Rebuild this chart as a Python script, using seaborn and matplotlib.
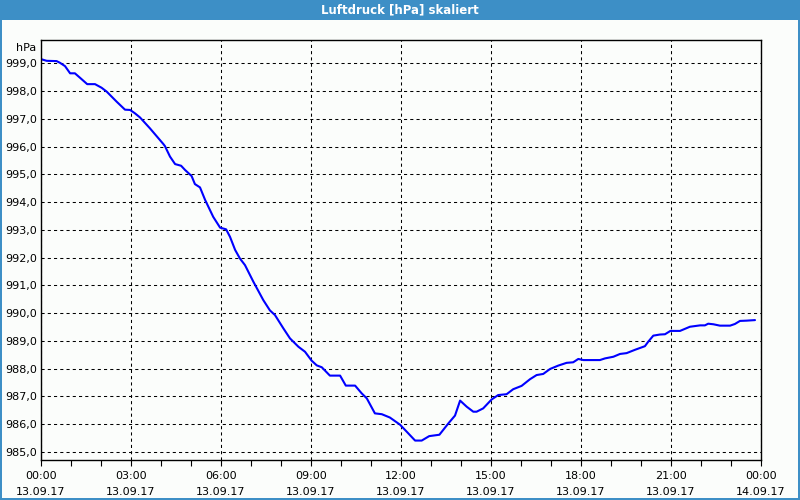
import matplotlib
matplotlib.use("Agg")
import matplotlib.pyplot as plt
import seaborn as sns
import pandas as pd
from matplotlib.patches import Rectangle
from matplotlib.ticker import FixedLocator, MultipleLocator

# ---- data ----
hours = [0.00, 0.19, 0.52, 0.63, 0.80, 0.97, 1.13, 1.30, 1.54, 1.80, 2.02, 2.19, 2.52, 2.80, 2.97,
         3.13, 3.30, 3.63, 4.08, 4.13, 4.30, 4.47, 4.67, 4.80, 5.02, 5.13, 5.30, 5.47, 5.74, 5.97,
         6.17, 6.30, 6.47, 6.63, 6.80, 7.08, 7.41, 7.63, 7.80, 8.08, 8.30, 8.58, 8.80, 9.02, 9.19,
         9.36, 9.63, 9.97, 10.16, 10.47, 10.69, 10.86, 11.13, 11.36, 11.63, 11.97, 12.19, 12.47,
         12.69, 12.94, 13.28, 13.58, 13.80, 13.97, 14.19, 14.41, 14.52, 14.74, 15.02, 15.24, 15.52,
         15.74, 16.02, 16.30, 16.52, 16.74, 16.97, 17.24, 17.52, 17.74, 17.91, 18.08, 18.63, 18.80,
         19.08, 19.30, 19.52, 19.80, 20.13, 20.24, 20.41, 20.63, 20.80, 20.98, 21.30, 21.63, 21.97,
         22.13, 22.24, 22.41, 22.63, 22.97, 23.13, 23.30, 23.52, 23.80]
pressure = [999.15, 999.09, 999.08, 999.02, 998.90, 998.64, 998.64, 998.48, 998.25, 998.25, 998.12,
            997.98, 997.62, 997.33, 997.32, 997.20, 997.05, 996.66, 996.09, 996.02, 995.64, 995.37,
            995.31, 995.16, 994.94, 994.65, 994.53, 994.08, 993.47, 993.08, 993.02, 992.75, 992.28,
            991.97, 991.73, 991.13, 990.47, 990.10, 989.93, 989.45, 989.09, 988.79, 988.61, 988.29,
            988.12, 988.05, 987.75, 987.75, 987.39, 987.39, 987.11, 986.93, 986.39, 986.36, 986.24,
            985.98, 985.73, 985.41, 985.41, 985.57, 985.62, 986.03, 986.31, 986.85, 986.63, 986.45,
            986.45, 986.57, 986.89, 987.05, 987.08, 987.26, 987.38, 987.62, 987.77, 987.81, 987.99,
            988.11, 988.21, 988.23, 988.35, 988.31, 988.31, 988.37, 988.43, 988.53, 988.56, 988.68,
            988.81, 988.97, 989.19, 989.23, 989.24, 989.36, 989.36, 989.51, 989.56, 989.56, 989.62,
            989.60, 989.55, 989.55, 989.61, 989.72, 989.73, 989.75]

x_ticks = [0, 3, 6, 9, 12, 15, 18, 21, 24]
x_labels = ["00:00\n13.09.17", "03:00\n13.09.17", "06:00\n13.09.17", "09:00\n13.09.17",
            "12:00\n13.09.17", "15:00\n13.09.17", "18:00\n13.09.17", "21:00\n13.09.17",
            "00:00\n14.09.17"]
y_ticks = [985, 986, 987, 988, 989, 990, 991, 992, 993, 994, 995, 996, 997, 998, 999]
y_labels = [f"{v},0" for v in y_ticks]
title = "Luftdruck [hPa] skaliert"
unit = "hPa"

df = pd.DataFrame({"h": hours, "p": pressure})

# ---- style ----
sns.set_style("white")
plt.rcParams["font.family"] = ["DejaVu Sans"]
plt.rcParams["text.color"] = "black"
plt.rcParams["xtick.color"] = "black"
plt.rcParams["ytick.color"] = "black"
plt.rcParams["axes.labelcolor"] = "black"

bg = "#fbfdfb"
frame = "#3d8fc6"

fig = plt.figure(figsize=(8, 5), dpi=100, facecolor=bg)
ax = fig.add_axes([41 / 800, 40 / 500, 720 / 800, 420 / 500])
ax.set_facecolor(bg)

sns.lineplot(data=df, x="h", y="p", ax=ax, color="#0000ff", linewidth=1.5)

ax.set_xlim(0, 24)
ax.set_ylim(984.71, 999.84)

ax.set_xticks(x_ticks)
ax.set_xticklabels(x_labels)
ax.xaxis.set_minor_locator(MultipleLocator(1))
ax.set_yticks(y_ticks)
ax.set_yticklabels(y_labels)

ax.tick_params(axis="x", which="both", direction="out", length=4, width=0.8,
               color="black", labelcolor="black", labelsize=8, pad=4, bottom=True)
ax.tick_params(axis="y", which="both", length=0, labelsize=8, labelcolor="black",
               pad=3, left=False)
for lbl in ax.get_xticklabels():
    lbl.set_linespacing(1.7)

ax.grid(True, which="major", color="black", linewidth=0.75, linestyle=(0, (3.0, 3.0)))
ax.set_axisbelow(True)

for sp in ax.spines.values():
    sp.set_visible(True)
    sp.set_color("black")
    sp.set_linewidth(1.0)

ax.set_xlabel("")
ax.set_ylabel("")

ax.text(-0.006, 1.0 - 3 / 420, unit, transform=ax.transAxes, ha="right", va="top",
        fontsize=8, color="black")

# window frame: title bar + borders
fig.patches.append(Rectangle((0, 1 - 20 / 500), 1, 20 / 500, transform=fig.transFigure,
                             facecolor=frame, edgecolor="none", zorder=0))
fig.patches.append(Rectangle((0, 0), 2 / 800, 1, transform=fig.transFigure,
                             facecolor=frame, edgecolor="none", zorder=0))
fig.patches.append(Rectangle((1 - 2 / 800, 0), 2 / 800, 1, transform=fig.transFigure,
                             facecolor=frame, edgecolor="none", zorder=0))
fig.patches.append(Rectangle((0, 0), 1, 2 / 500, transform=fig.transFigure,
                             facecolor=frame, edgecolor="none", zorder=0))
fig.text(0.5, 1 - 10 / 500, title, ha="center", va="center", color="white",
         fontsize=8.5, fontweight="bold")

fig.savefig("out.png", dpi=100, facecolor=bg)
